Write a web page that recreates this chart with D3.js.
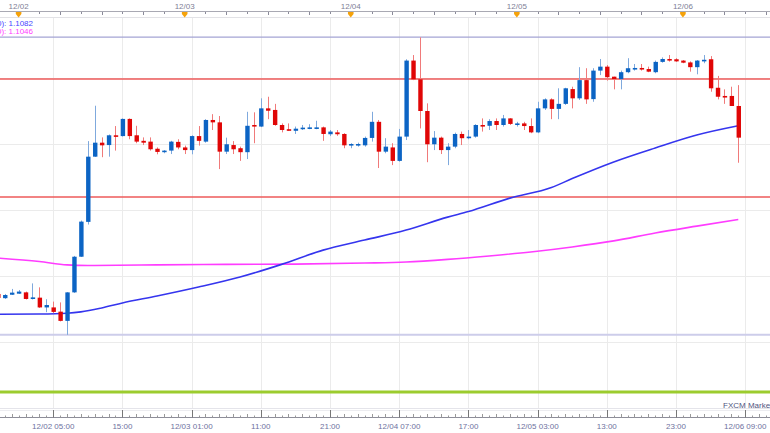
<!DOCTYPE html>
<html><head><meta charset="utf-8">
<script src="https://cdn.jsdelivr.net/npm/d3@7"></script>
<style>body{margin:0;background:#fff;overflow:hidden}svg{display:block}</style>
</head><body><svg id="c" width="770" height="433"></svg>
<script>
// ---------- DATA (hourly EUR/USD candles, first candle = 12/01 21:00) ----------
const firstHour = -3; // hours relative to 12/02 00:00
const open = [1.10182,1.10166,1.10179,1.10183,1.10188,1.10163,1.10168,1.10131,1.10131,1.10115,1.10080,1.10188,1.10323,1.10455,1.10702,1.10755,1.10746,1.10783,1.10780,1.10845,1.10783,1.10762,1.10759,1.10732,1.10719,1.10725,1.10758,1.10737,1.10727,1.10780,1.10759,1.10841,1.10832,1.10721,1.10746,1.10734,1.10719,1.10822,1.10816,1.10885,1.10879,1.10822,1.10806,1.10800,1.10806,1.10808,1.10808,1.10813,1.10787,1.10794,1.10788,1.10745,1.10745,1.10745,1.10773,1.10834,1.10721,1.10737,1.10686,1.10778,1.11066,1.10995,1.10875,1.10749,1.10774,1.10727,1.10740,1.10788,1.10772,1.10778,1.10822,1.10819,1.10837,1.10822,1.10847,1.10822,1.10828,1.10818,1.10794,1.10885,1.10919,1.10883,1.10902,1.10958,1.10923,1.10992,1.10920,1.11028,1.11043,1.11005,1.10996,1.11022,1.11033,1.11038,1.11034,1.11022,1.11061,1.11072,1.11071,1.11066,1.11059,1.11041,1.11064,1.11071,1.10963,1.10932,1.10932,1.10894];
const high = [1.10186,1.10182,1.10201,1.10197,1.10191,1.10222,1.10207,1.10162,1.10153,1.10150,1.10189,1.10326,1.10460,1.10761,1.10895,1.10775,1.10786,1.10818,1.10847,1.10847,1.10819,1.10775,1.10775,1.10737,1.10727,1.10762,1.10768,1.10744,1.10783,1.10818,1.10844,1.10863,1.10856,1.10774,1.10761,1.10740,1.10872,1.10870,1.10923,1.10929,1.10902,1.10828,1.10828,1.10816,1.10822,1.10825,1.10838,1.10816,1.10803,1.10803,1.10791,1.10753,1.10755,1.10778,1.10872,1.10841,1.10772,1.10753,1.10807,1.11071,1.11087,1.11154,1.10904,1.10799,1.10778,1.10753,1.10793,1.10797,1.10803,1.10825,1.10847,1.10844,1.10847,1.10860,1.10848,1.10834,1.10834,1.10847,1.10910,1.10923,1.10923,1.10961,1.10963,1.10967,1.11041,1.11037,1.11037,1.11072,1.11049,1.11005,1.11028,1.11075,1.11053,1.11053,1.11043,1.11066,1.11078,1.11087,1.11075,1.11068,1.11063,1.11068,1.11087,1.11083,1.11008,1.10957,1.10967,1.10973];
const low = [1.10163,1.10163,1.10178,1.10182,1.10161,1.10161,1.10129,1.10113,1.10109,1.10078,1.10027,1.10186,1.10322,1.10445,1.10701,1.10700,1.10702,1.10725,1.10778,1.10768,1.10753,1.10746,1.10725,1.10711,1.10715,1.10712,1.10730,1.10712,1.10711,1.10744,1.10755,1.10803,1.10655,1.10712,1.10712,1.10686,1.10693,1.10753,1.10814,1.10844,1.10819,1.10794,1.10800,1.10788,1.10803,1.10806,1.10806,1.10762,1.10780,1.10781,1.10734,1.10734,1.10740,1.10740,1.10759,1.10659,1.10715,1.10670,1.10683,1.10765,1.10992,1.10809,1.10681,1.10727,1.10712,1.10670,1.10734,1.10746,1.10768,1.10774,1.10797,1.10803,1.10803,1.10816,1.10822,1.10816,1.10803,1.10791,1.10791,1.10879,1.10844,1.10844,1.10898,1.10885,1.10917,1.10902,1.10910,1.11011,1.10990,1.10957,1.10957,1.11018,1.11028,1.11028,1.11022,1.11018,1.11058,1.11062,1.11061,1.11056,1.11024,1.11014,1.11056,1.10948,1.10919,1.10902,1.10894,1.10679];
const close = [1.10167,1.10178,1.10187,1.10191,1.10163,1.10169,1.10131,1.10140,1.10114,1.10080,1.10188,1.10323,1.10456,1.10702,1.10755,1.10745,1.10783,1.10778,1.10845,1.10780,1.10759,1.10755,1.10730,1.10720,1.10725,1.10759,1.10737,1.10727,1.10780,1.10762,1.10841,1.10832,1.10721,1.10749,1.10730,1.10719,1.10819,1.10816,1.10885,1.10876,1.10822,1.10803,1.10800,1.10808,1.10812,1.10813,1.10813,1.10788,1.10797,1.10787,1.10745,1.10750,1.10750,1.10773,1.10834,1.10721,1.10740,1.10686,1.10778,1.11066,1.10995,1.10875,1.10749,1.10774,1.10727,1.10740,1.10788,1.10772,1.10778,1.10822,1.10816,1.10837,1.10822,1.10847,1.10826,1.10828,1.10818,1.10794,1.10885,1.10919,1.10883,1.10902,1.10961,1.10923,1.10992,1.10919,1.11028,1.11043,1.11003,1.10996,1.11022,1.11037,1.11038,1.11033,1.11024,1.11061,1.11072,1.11066,1.11063,1.11058,1.11041,1.11066,1.11069,1.10961,1.10929,1.10927,1.10894,1.10774];

// moving averages, read at sample hours
const maFastHours  = [-3,3,7,9,12,15,20,26,32,38,44,50,56,62,65,71,77,80,86,92,98,104];
const maFastValues = [1.10105,1.10106,1.10109,1.10114,1.10129,1.10148,1.10174,1.10208,1.10246,1.10294,1.10348,1.10386,1.10424,1.10473,1.10494,1.10545,1.10585,1.10619,1.10682,1.10735,1.10784,1.10819];
const maSlowHours  = [-3,3,7,10,20,30,40,50,56,62,68,74,80,86,92,98,104];
const maSlowValues = [1.10318,1.10305,1.10292,1.10290,1.10292,1.10294,1.10295,1.10299,1.10303,1.10313,1.10326,1.10341,1.10360,1.10383,1.10413,1.10439,1.10464];
const legendLabels = ["MA(100): 1.1082","MA(200): 1.1046"];

// level lines
const lavenderLevels = [1.11155, 1.10027];
const redLevels = [1.10996, 1.10549];
const greenLevel = 1.09811;

// axes
const gridPrices = [1.0975,1.1000,1.1025,1.1050,1.1075,1.1100];
const dayHours = [0,24,48,72,96];
const dayLabels = ["12/02","12/03","12/04","12/05","12/06"];
const bottomTickHours = [5,15,25,35,45,55,65,75,85,95,105];
const bottomTickLabels = ["12/02 05:00","15:00","12/03 01:00","11:00","21:00","12/04 07:00","17:00","12/05 03:00","13:00","23:00","12/06 09:00"];

// ---------- DRAW ----------
const W = 770, H = 433;
const svg = d3.select("#c");
const x = d3.scaleLinear().domain([5, 105]).range([53.2, 745.2]);
const y = d3.scaleLinear().domain([1.1000, 1.1100]).range([342, 78]);
const plotTop = 18, plotBottom = 408;
const font = "'Liberation Sans', Arial, sans-serif";

const candles = open.map((o,i)=>({h:firstHour+i,o,hi:high[i],lo:low[i],c:close[i]}));

// grid
svg.append("g").selectAll("line").data(gridPrices).join("line")
  .attr("x1",0).attr("x2",W).attr("y1",d=>Math.round(y(d))+0.5).attr("y2",d=>Math.round(y(d))+0.5)
  .attr("stroke","#ebebeb").attr("stroke-width",1);
svg.append("g").selectAll("line").data(bottomTickHours).join("line")
  .attr("x1",d=>Math.round(x(d))+0.5).attr("x2",d=>Math.round(x(d))+0.5)
  .attr("y1",plotTop).attr("y2",plotBottom)
  .attr("stroke","#ebebeb").attr("stroke-width",1);

// level lines
svg.append("g").selectAll("line").data(lavenderLevels).join("line")
  .attr("x1",0).attr("x2",W).attr("y1",d=>y(d)).attr("y2",d=>y(d))
  .attr("stroke",(d,i)=>i===0?"#a4a4d4":"#cdcdea").attr("stroke-width",(d,i)=>i===0?1.3:2);
svg.append("g").selectAll("line").data(redLevels).join("line")
  .attr("x1",0).attr("x2",W).attr("y1",d=>y(d)).attr("y2",d=>y(d))
  .attr("stroke","#ee5a5a").attr("stroke-width",1.4);
svg.append("line").attr("x1",0).attr("x2",W).attr("y1",y(greenLevel)).attr("y2",y(greenLevel))
  .attr("stroke","#9ccc2e").attr("stroke-width",3);

// moving averages
const line = d3.line().x(d=>x(d[0])).y(d=>y(d[1])).curve(d3.curveMonotoneX);
svg.append("path").datum(maSlowHours.map((h,i)=>[h,maSlowValues[i]]))
  .attr("d",line).attr("fill","none").attr("stroke","#ff3cff").attr("stroke-width",1.6);
svg.append("path").datum(maFastHours.map((h,i)=>[h,maFastValues[i]]))
  .attr("d",line).attr("fill","none").attr("stroke","#3535ee").attr("stroke-width",1.6);

// candles
const bw = 4.4;
const cg = svg.append("g").selectAll("g").data(candles).join("g");
cg.append("line")
  .attr("x1",d=>Math.round(x(d.h))+0.5).attr("x2",d=>Math.round(x(d.h))+0.5)
  .attr("y1",d=>y(d.hi)).attr("y2",d=>y(d.lo))
  .attr("stroke",d=>d.c>=d.o?"#7fa9dd":"#f07a7a").attr("stroke-width",1);
cg.append("rect")
  .attr("x",d=>x(d.h)-bw/2+0.5).attr("width",bw)
  .attr("y",d=>y(Math.max(d.o,d.c)))
  .attr("height",d=>Math.max(1.6,Math.abs(y(d.o)-y(d.c))))
  .attr("fill",d=>d.c>=d.o?"#0c64c4":"#e00606");

// top axis
svg.append("rect").attr("x",0).attr("y",0).attr("width",W).attr("height",plotTop).attr("fill","#fff");
svg.append("line").attr("x1",0).attr("x2",W).attr("y1",11.5).attr("y2",11.5).attr("stroke","#a9a9b3");
svg.append("line").attr("x1",0).attr("x2",W).attr("y1",17.5).attr("y2",17.5).attr("stroke","#e2e2e6");
const topTicks = d3.range(-6, 114, 3).filter(h=>h%24!==0);
svg.append("g").selectAll("line").data(topTicks).join("line")
  .attr("x1",d=>Math.round(x(d))+0.5).attr("x2",d=>Math.round(x(d))+0.5)
  .attr("y1",12).attr("y2",d=>d%6===0?15:14)
  .attr("stroke","#8a8a99");
svg.append("g").selectAll("path").data(dayHours).join("path")
  .attr("d",d=>{const cx=x(d);return `M${cx-2.8},12 L${cx+2.8},12 L${cx+2.8},14 L${cx},17.5 L${cx-2.8},14 Z`;})
  .attr("fill","#f5a20a");
svg.append("g").selectAll("text").data(dayLabels).join("text")
  .attr("x",(d,i)=>x(dayHours[i])).attr("y",8.5).attr("text-anchor","middle")
  .attr("font-family",font).attr("font-size",8).attr("fill","#7e8096").text(d=>d);

// legend
svg.append("g").selectAll("text").data(legendLabels).join("text")
  .attr("x",33).attr("y",(d,i)=>26+i*8).attr("text-anchor","end")
  .attr("font-family",font).attr("font-size",8)
  .attr("fill",(d,i)=>i===0?"#4646ff":"#ff3cff").text(d=>d);

// bottom axis
svg.append("rect").attr("x",0).attr("y",plotBottom).attr("width",W).attr("height",H-plotBottom).attr("fill","#fff");
svg.append("line").attr("x1",0).attr("x2",W).attr("y1",408.5).attr("y2",408.5).attr("stroke","#e4e4ea");
svg.append("line").attr("x1",0).attr("x2",W).attr("y1",410.5).attr("y2",410.5).attr("stroke","#ececf0");
svg.append("line").attr("x1",0).attr("x2",W).attr("y1",417.5).attr("y2",417.5).attr("stroke","#8d8d99");
const bottomTicks = d3.range(-3, 112);
svg.append("g").selectAll("line").data(bottomTicks).join("line")
  .attr("x1",d=>Math.round(x(d))+0.5).attr("x2",d=>Math.round(x(d))+0.5)
  .attr("y1",d=>(d-5)%10===0?410:((d-5)%2===0?414:415.5)).attr("y2",417.5)
  .attr("stroke",d=>(d-5)%10===0?"#777":"#999");
svg.append("g").selectAll("text").data(bottomTickLabels).join("text")
  .attr("x",(d,i)=>x(bottomTickHours[i])).attr("y",429).attr("text-anchor","middle")
  .attr("font-family",font).attr("font-size",8).attr("fill","#6e72a0").text(d=>d);
svg.append("text").attr("x",723).attr("y",408).attr("font-family",font).attr("font-size",8)
  .attr("fill","#4f5580").text("FXCM Markets");
</script></body></html>
